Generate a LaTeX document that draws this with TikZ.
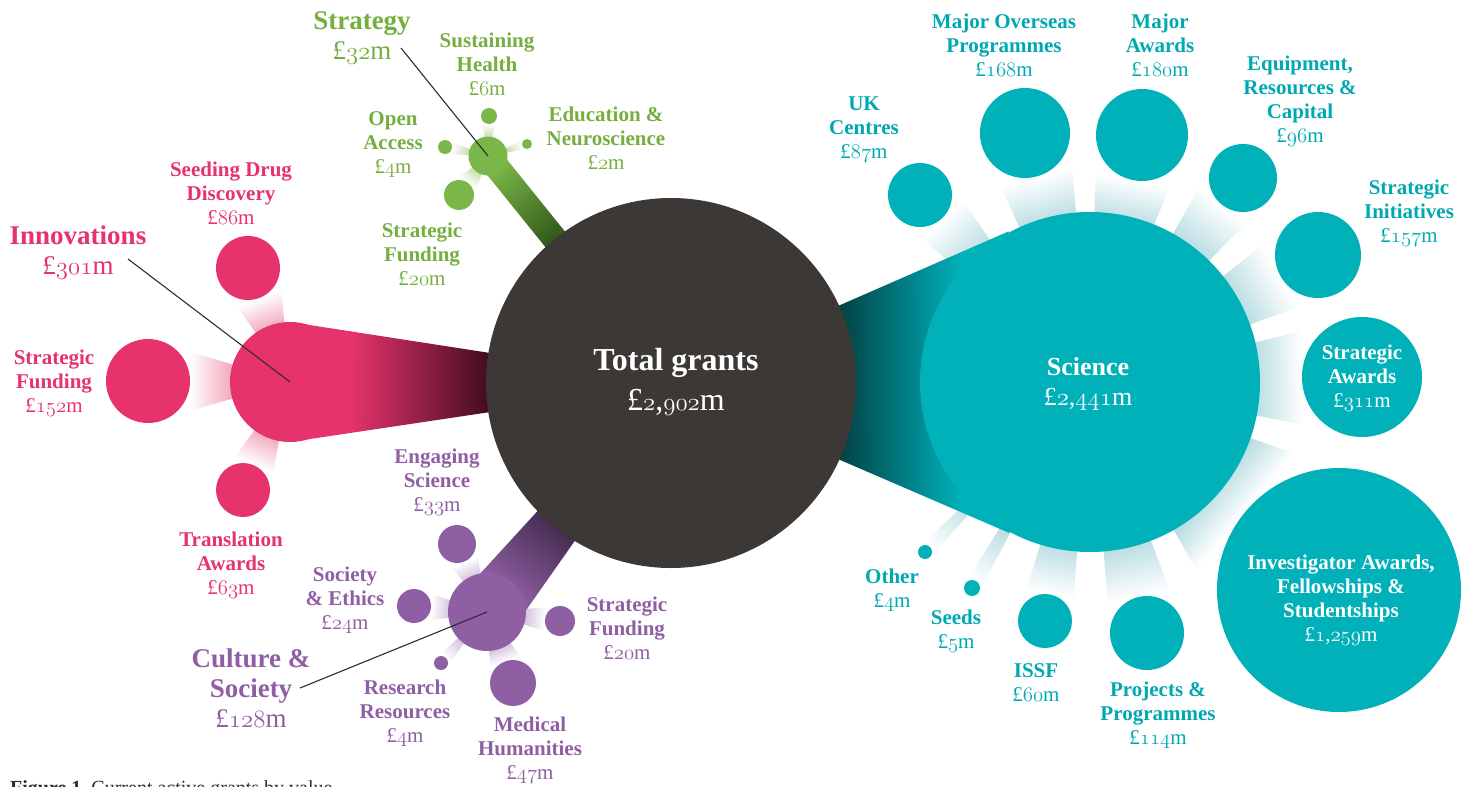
\documentclass[tikz,border=0pt]{standalone}
\usepackage{fontspec}
\setmainfont{Liberation Serif}
\definecolor{pinkC}{HTML}{E6336C}
\definecolor{pinkD}{HTML}{3E0B1D}
\definecolor{pinkT}{HTML}{F09AB1}
\definecolor{greenC}{HTML}{7AB648}
\definecolor{greenL}{HTML}{76AF40}
\definecolor{greenD}{HTML}{2D5418}
\definecolor{greenT}{HTML}{BCD9A2}
\definecolor{purpC}{HTML}{8F5FA3}
\definecolor{purpD}{HTML}{432B4E}
\definecolor{purpT}{HTML}{CBB6D6}
\definecolor{tealC}{HTML}{00B1BA}
\definecolor{tealL}{HTML}{00A9B2}
\definecolor{tealD}{HTML}{033A3C}
\definecolor{tealT}{HTML}{9CCFD6}
\definecolor{totalC}{HTML}{3C3835}
\definecolor{leadC}{HTML}{2E2E2E}

\newcommand\osf[1]{{\usefont{OML}{lmm}{m}{it}#1}}
\newcommand\amt[1]{{\mdseries £\osf{#1}m}}

% spoke: #1 parent, #2 child, #3 half width at parent centre, #4 half width at child centre,
% #5 start, #6 end of shading, #7 end of solid part (distances from parent), #8 colour at start, #9 colour at end
\newcommand\spoke[9]{%
  \path (#1); \pgfgetlastxy{\spax}{\spay}%
  \path (#2); \pgfgetlastxy{\spbx}{\spby}%
  \pgfmathsetmacro\spang{atan2((\spby)-(\spay),(\spbx)-(\spax))}%
  \pgfmathsetmacro\spL{veclen((\spbx)-(\spax),(\spby)-(\spay))}%
  \pgfmathsetmacro\spa{#5}\pgfmathsetmacro\spb{#6}\pgfmathsetmacro\spe{#7}%
  \pgfmathsetmacro\spc{min(\spb,\spe)-1}%
  \pgfmathsetmacro\sha{#3+(#4-(#3))*(\spa/\spL)}%
  \pgfmathsetmacro\shb{#3+(#4-(#3))*(\spb/\spL)}%
  \pgfmathsetmacro\shc{#3+(#4-(#3))*(\spc/\spL)}%
  \pgfmathsetmacro\she{#3+(#4-(#3))*(\spe/\spL)}%
  \begin{scope}[transform canvas={shift={(\spax,\spay)},rotate=\spang}]
    \shade[left color=#8,right color=#9] (\spa pt,\sha pt) -- (\spb pt,\shb pt) -- (\spb pt,-\shb pt) -- (\spa pt,-\sha pt) -- cycle;
    \ifdim\spe pt>\spb pt
    \fill[#9] (\spc pt,\shc pt) -- (\spe pt,\she pt) -- (\spe pt,-\she pt) -- (\spc pt,-\shc pt) -- cycle;
    \fi
  \end{scope}}
% wedge from parent (radius #3) to child (radius #4), tint #5 fading to white
\newcommand\wedgeto[5]{\spoke{#1}{#2}{0}{#4}{0.85*#3}{\spL-#4}{\spL-#4}{#5}{white}}

\tikzset{
  disc/.style={circle, inner sep=0pt, minimum size=#1},
  lab/.style={align=center, inner sep=0pt, font=\fontsize{21}{24}\selectfont\bfseries},
  biglab/.style={align=center, inner sep=0pt, font=\fontsize{27}{30}\selectfont\bfseries},
  leader/.style={draw=leadC, line width=1.1pt},
}

\begin{document}
\begin{tikzpicture}[x=1pt,y=-1pt]
\fill[white] (0,0) rectangle (1470,787);
\useasboundingbox (0,0) rectangle (1470,787);

% centres
\coordinate (tot) at (671,383);
\coordinate (inn) at (290,382);
\coordinate (sdd) at (248,268);
\coordinate (isf) at (148,381);
\coordinate (tra) at (243,490);
\coordinate (stg) at (488,156);
\coordinate (sus) at (489,116);
\coordinate (edu) at (527,144);
\coordinate (opa) at (445,147);
\coordinate (gsf) at (459,195);
\coordinate (cul) at (487,612);
\coordinate (eng) at (457,544);
\coordinate (soc) at (414,606);
\coordinate (psf) at (560,621);
\coordinate (res) at (441,663);
\coordinate (med) at (513,683);
\coordinate (sci) at (1090,382);
\coordinate (ukc) at (920,195);
\coordinate (mop) at (1025,133);
\coordinate (maw) at (1142,135);
\coordinate (eqp) at (1243,178);
\coordinate (sin) at (1318,255);
\coordinate (saw) at (1362,377);
\coordinate (inv) at (1339,590);
\coordinate (prj) at (1147,633);
\coordinate (iss) at (1045,621);
\coordinate (sds) at (972,588);
\coordinate (oth) at (925,552);

% wedges
\wedgeto{inn}{sdd}{60}{32}{pinkT}
\wedgeto{inn}{isf}{60}{42}{pinkT}
\wedgeto{inn}{tra}{60}{27}{pinkT}
\wedgeto{stg}{sus}{19.5}{8}{greenT}
\wedgeto{stg}{edu}{19.5}{5}{greenT}
\wedgeto{stg}{opa}{19.5}{7}{greenT}
\wedgeto{stg}{gsf}{19.5}{15}{greenT}
\wedgeto{cul}{eng}{39}{19}{purpT}
\wedgeto{cul}{soc}{39}{17}{purpT}
\wedgeto{cul}{psf}{39}{15}{purpT}
\wedgeto{cul}{res}{39}{7}{purpT}
\wedgeto{cul}{med}{39}{23}{purpT}
\wedgeto{sci}{ukc}{170}{32}{tealT}
\wedgeto{sci}{mop}{170}{45}{tealT}
\wedgeto{sci}{maw}{170}{46}{tealT}
\wedgeto{sci}{eqp}{170}{34}{tealT}
\wedgeto{sci}{sin}{170}{43}{tealT}
\wedgeto{sci}{saw}{170}{60}{tealT}
\wedgeto{sci}{inv}{170}{122}{tealT}
\wedgeto{sci}{prj}{170}{37}{tealT}
\wedgeto{sci}{iss}{170}{27}{tealT}
\wedgeto{sci}{sds}{170}{8}{tealT}
\wedgeto{sci}{oth}{170}{7}{tealT}

% bands from the total
\spoke{tot}{inn}{2}{60}{178}{\spL-60}{\spL}{pinkD}{pinkC}
\spoke{tot}{stg}{12.5}{12.5}{180}{\spL-15}{\spL}{greenD}{greenC}
\spoke{tot}{cul}{12}{31}{180}{\spL-27}{\spL}{purpD}{purpC}
\spoke{tot}{sci}{4}{186}{160}{290}{338}{tealD}{tealC}

% circles
\node[disc=370pt, fill=totalC] (totC) at (tot) {};
\node[disc=340pt, fill=tealC] (sciC) at (sci) {};
\node[disc=120pt, fill=pinkC] (innC) at (inn) {};
\node[disc=64pt, fill=pinkC] (sddC) at (sdd) {};
\node[disc=84pt, fill=pinkC] (isfC) at (isf) {};
\node[disc=54pt, fill=pinkC] (traC) at (tra) {};
\node[disc=39pt, fill=greenC] (stgC) at (stg) {};
\node[disc=16pt, fill=greenC] (susC) at (sus) {};
\node[disc=10pt, fill=greenC] (eduC) at (edu) {};
\node[disc=14pt, fill=greenC] (opaC) at (opa) {};
\node[disc=30pt, fill=greenC] (gsfC) at (gsf) {};
\node[disc=78pt, fill=purpC] (culC) at (cul) {};
\node[disc=38pt, fill=purpC] (engC) at (eng) {};
\node[disc=34pt, fill=purpC] (socC) at (soc) {};
\node[disc=30pt, fill=purpC] (psfC) at (psf) {};
\node[disc=14pt, fill=purpC] (resC) at (res) {};
\node[disc=46pt, fill=purpC] (medC) at (med) {};
\node[disc=64pt, fill=tealC] (ukcC) at (ukc) {};
\node[disc=90pt, fill=tealC] (mopC) at (mop) {};
\node[disc=92pt, fill=tealC] (mawC) at (maw) {};
\node[disc=68pt, fill=tealC] (eqpC) at (eqp) {};
\node[disc=86pt, fill=tealC] (sinC) at (sin) {};
\node[disc=120pt, fill=tealC] (sawC) at (saw) {};
\node[disc=244pt, fill=tealC] (invC) at (inv) {};
\node[disc=74pt, fill=tealC] (prjC) at (prj) {};
\node[disc=54pt, fill=tealC] (issC) at (iss) {};
\node[disc=16pt, fill=tealC] (sdsC) at (sds) {};
\node[disc=14pt, fill=tealC] (othC) at (oth) {};

% centre texts
\node[align=center, inner sep=0pt, text=white, font=\fontsize{32}{40}\selectfont\bfseries] (totT) at (676,382) {Total grants\\{\mdseries £\osf{2},\osf{902}m}};
\node[align=center, inner sep=0pt, text=white, font=\fontsize{26}{30}\selectfont\bfseries] (sciT) at (1088,384) {Science\\{\mdseries £\osf{2},\osf{441}m}};
\node[lab, text=white] (sawT) at (1362,378) {Strategic\\Awards\\\amt{311}};
\node[lab, text=white] (invT) at (1341,600) {Investigator Awards,\\Fellowships \&\\Studentships\\{\mdseries £\osf{1},\osf{259}m}};

% pink labels
\node[biglab, text=pinkC] (innT) at (78,253) {Innovations\\\amt{301}};
\node[lab, text=pinkC] (sddT) at (231,193) {Seeding Drug\\Discovery\\\amt{86}};
\node[lab, text=pinkC] (isfT) at (54,383) {Strategic\\Funding\\\amt{152}};
\node[lab, text=pinkC] (traT) at (231,565) {Translation\\Awards\\\amt{63}};

% green labels
\node[biglab, text=greenL] (stgT) at (362,38) {Strategy\\\amt{32}};
\node[lab, text=greenL] (susT) at (487,64) {Sustaining\\Health\\\amt{6}};
\node[lab, text=greenL] (eduT) at (606,138) {Education \&\\Neuroscience\\\amt{2}};
\node[lab, text=greenL] (opaT) at (393,145) {Open\\Access\\\amt{4}};
\node[lab, text=greenL] (gsfT) at (422,254) {Strategic\\Funding\\\amt{20}};

% purple labels
\node[biglab, text=purpC] (culT) at (251,688) {Culture \&\\Society\\\amt{128}};
\node[lab, text=purpC] (engT) at (437,482) {Engaging\\Science\\\amt{33}};
\node[lab, text=purpC] (socT) at (345,600) {Society\\\& Ethics\\\amt{24}};
\node[lab, text=purpC] (resT) at (405,713) {Research\\Resources\\\amt{4}};
\node[lab, text=purpC] (psfT) at (627,628) {Strategic\\Funding\\\amt{20}};
\node[lab, text=purpC] (medT) at (530,750) {Medical\\Humanities\\\amt{47}};

% teal labels
\node[lab, text=tealL] (ukcT) at (864,130) {UK\\Centres\\\amt{87}};
\node[lab, text=tealL] (mopT) at (1004,45) {Major Overseas\\Programmes\\\amt{168}};
\node[lab, text=tealL] (mawT) at (1160,45) {Major\\Awards\\\amt{180}};
\node[lab, text=tealL] (eqpT) at (1300,101) {Equipment,\\Resources \&\\Capital\\\amt{96}};
\node[lab, text=tealL] (sinT) at (1409,213) {Strategic\\Initiatives\\\amt{157}};
\node[lab, text=tealL] (prjT) at (1158,715) {Projects \&\\Programmes\\\amt{114}};
\node[lab, text=tealL] (issT) at (1036,683) {ISSF\\\amt{60}};
\node[lab, text=tealL] (sdsT) at (956,631) {Seeds\\\amt{5}};
\node[lab, text=tealL] (othT) at (892,590) {Other\\\amt{4}};

% leader lines
\coordinate (innL) at (128,259);
\coordinate (stgL) at (401,48);
\coordinate (culL) at (300,688);
\draw[leader] (innL) -- (inn);
\draw[leader] (stgL) -- (stg);
\draw[leader] (culL) -- (cul);

% caption (cut by the page edge, as in the reference)
\node[anchor=base west, inner sep=0pt, text=leadC, font=\fontsize{20}{24}\selectfont] (cap) at (10,794) {\textbf{Figure 1}\hspace{10pt}Current active grants by value};
\end{tikzpicture}
\end{document}
